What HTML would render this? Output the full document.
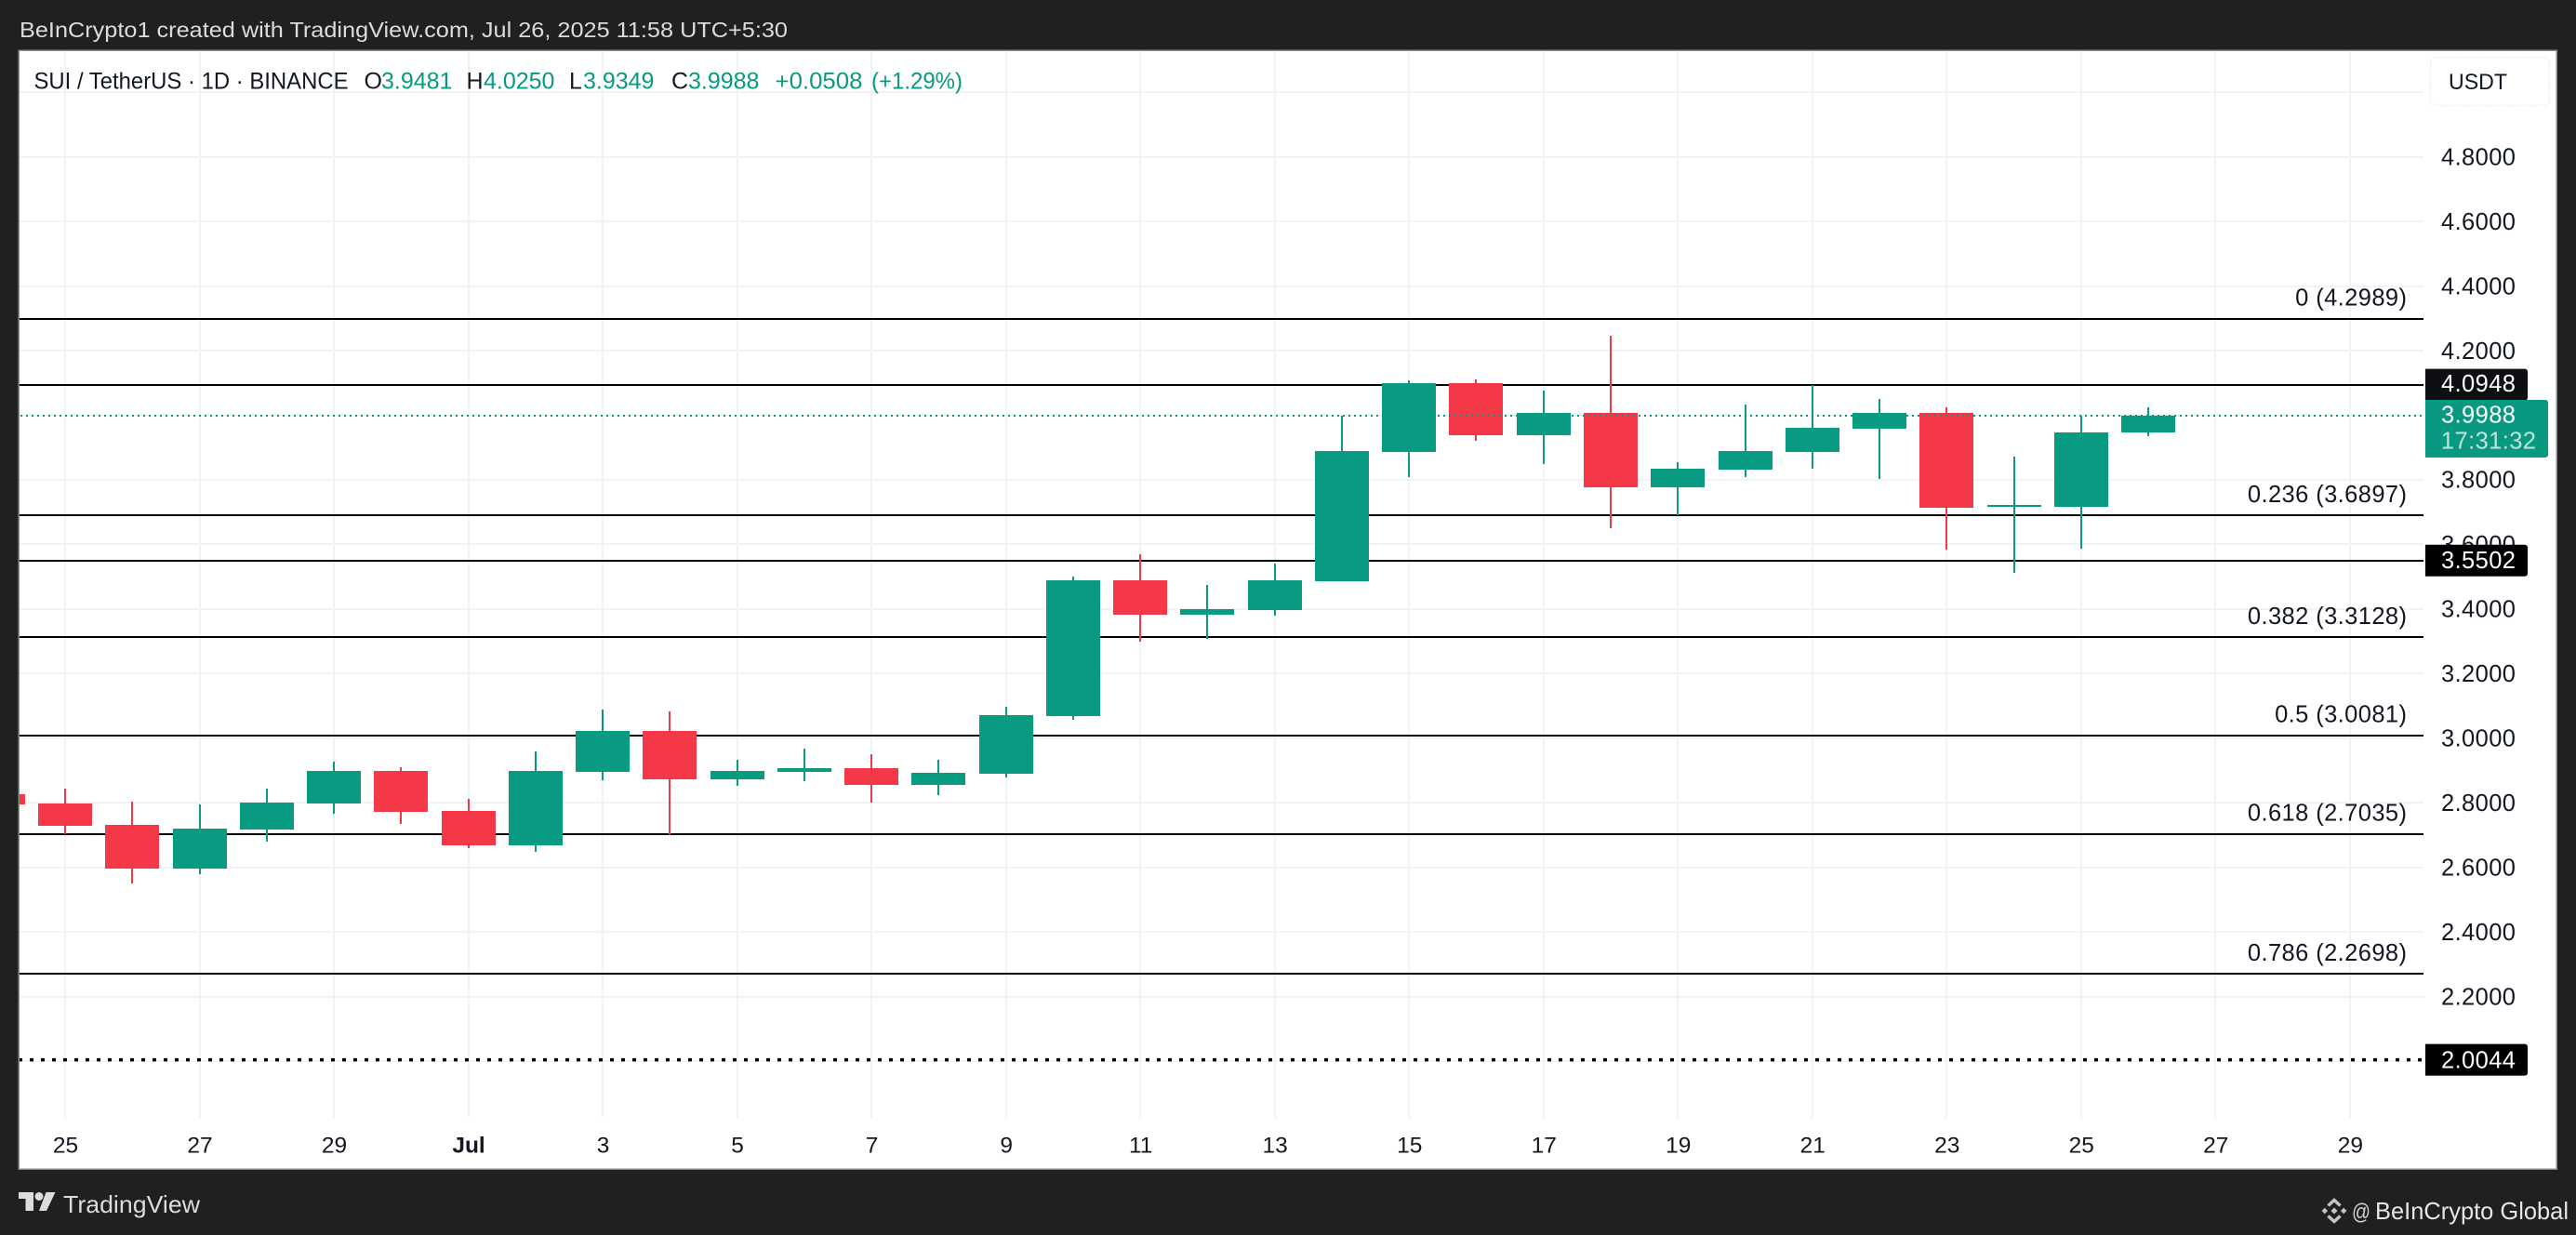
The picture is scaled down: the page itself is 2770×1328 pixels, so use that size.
<!DOCTYPE html>
<html lang="en">
<head>
<meta charset="utf-8">
<title>SUI / TetherUS 1D chart</title>
<style>
html,body{margin:0;padding:0;background:#202020;width:2770px;height:1328px;overflow:hidden}
svg{display:block;font-family:"Liberation Sans",Arial,sans-serif}
</style>
</head>
<body>
<svg id="chart" xmlns="http://www.w3.org/2000/svg" width="2770" height="1328" viewBox="0 0 2770 1328">
  <defs>
    <clipPath id="plot-clip"><rect x="21" y="55" width="2585" height="1147"/></clipPath>
  </defs>
  <rect x="0" y="0" width="2770" height="1328" fill="#202020"/>
  <text x="21" y="40" font-size="23.5" fill="#dcdcdc" textLength="826" lengthAdjust="spacingAndGlyphs">BeInCrypto1 created with TradingView.com, Jul 26, 2025 11:58 UTC+5:30</text>
  <rect x="20.25" y="54.25" width="2729" height="1203" fill="#ffffff" stroke="#8a8a8a" stroke-width="1.5"/>
  <g id="grid-layer"></g>
  <g id="level-layer" clip-path="url(#plot-clip)"></g>
  <g id="candle-layer" clip-path="url(#plot-clip)"></g>
  <g id="last-price-layer"></g>
  <g id="axis-layer"></g>

  <g font-size="25" fill="#131722">
    <text x="36.5" y="95.5" textLength="338" lengthAdjust="spacingAndGlyphs">SUI / TetherUS · 1D · BINANCE</text>
    <text x="391.5" y="95.5">O</text>
    <text x="410" y="95.5" fill="#089981">3.9481</text>
    <text x="501.5" y="95.5">H</text>
    <text x="520" y="95.5" fill="#089981">4.0250</text>
    <text x="612" y="95.5">L</text>
    <text x="627" y="95.5" fill="#089981">3.9349</text>
    <text x="722" y="95.5">C</text>
    <text x="740" y="95.5" fill="#089981">3.9988</text>
    <text x="833.5" y="95.5" fill="#089981" textLength="94" lengthAdjust="spacingAndGlyphs">+0.0508</text>
    <text x="937" y="95.5" fill="#089981" textLength="98" lengthAdjust="spacingAndGlyphs">(+1.29%)</text>
  </g>

  <g>
    <rect x="2613.5" y="61.5" width="128" height="52" rx="7" fill="#ffffff" stroke="#f0f0f0" stroke-width="1.5" stroke-dasharray="2 1"/>
    <text x="2633" y="96" font-size="24" fill="#131722" textLength="63" lengthAdjust="spacingAndGlyphs">USDT</text>
  </g>

  <g fill="#dcdcdc">
    <polygon points="20,1282 36,1282 36,1302 27.5,1302 27.5,1289 20,1289"/>
    <circle cx="42" cy="1286.5" r="4.5"/>
    <polygon points="49.5,1282 59.5,1282 50,1302 42,1302"/>
    <text x="68" y="1304" font-size="26" textLength="147" lengthAdjust="spacingAndGlyphs">TradingView</text>
  </g>

  <g>
    <g fill="none" stroke="#c4c4c4" stroke-width="3.4">
      <polyline points="2503.5,1296.5 2510,1290.5 2516.5,1296.5"/>
      <polyline points="2503.5,1307.5 2510,1313.5 2516.5,1307.5"/>
      <rect x="2507.5" y="1299.5" width="5" height="5" fill="#c4c4c4" stroke="none" transform="rotate(45 2510 1302)"/>
      <rect x="2497.5" y="1299.7" width="4.6" height="4.6" fill="#c4c4c4" stroke="none" transform="rotate(45 2499.8 1302)"/>
      <rect x="2517.9" y="1299.7" width="4.6" height="4.6" fill="#c4c4c4" stroke="none" transform="rotate(45 2520.2 1302)"/>
    </g>
    <text x="2529" y="1311" font-size="24" fill="#d4d4d4" textLength="20" lengthAdjust="spacingAndGlyphs">@</text>
    <text x="2554" y="1311" font-size="26" fill="#e6e6e6" textLength="208" lengthAdjust="spacingAndGlyphs">BeInCrypto Global</text>
  </g>
</svg>

<script>
// ---- chart data ----
const dates = ['Jun 24','Jun 25','Jun 26','Jun 27','Jun 28','Jun 29','Jun 30','Jul 1','Jul 2','Jul 3','Jul 4','Jul 5','Jul 6','Jul 7','Jul 8','Jul 9','Jul 10','Jul 11','Jul 12','Jul 13','Jul 14','Jul 15','Jul 16','Jul 17','Jul 18','Jul 19','Jul 20','Jul 21','Jul 22','Jul 23','Jul 24','Jul 25','Jul 26'];
const opens  = [2.8268,2.7980,2.7318,2.5964,2.7173,2.7980,2.8988,2.7750,2.6684,2.8959,3.0226,2.8729,2.8959,2.9074,2.8556,2.8901,3.0686,3.4890,3.3825,3.3969,3.4861,3.8864,4.0995,3.9382,4.0073,3.7770,3.8317,3.8864,3.9584,4.0073,3.7165,3.7165,3.9481];
const closes = [2.7951,2.7290,2.5964,2.7202,2.8009,2.8988,2.7721,2.6684,2.8988,3.0226,2.8729,2.8988,2.9074,2.8556,2.8930,3.0715,3.4890,3.3825,3.3998,3.4890,3.8893,4.0995,3.9382,4.0073,3.7770,3.8346,3.8893,3.9612,4.0073,3.7136,3.7223,3.9469,3.9988];
const highs  = [2.8400,2.8441,2.8037,2.7951,2.8441,2.9275,2.9103,2.8124,2.9592,3.0888,3.0830,2.9333,2.9679,2.9506,2.9333,3.0974,3.5005,3.5696,3.4746,3.5409,3.9995,4.1081,4.1110,4.0764,4.2463,3.8547,4.0332,4.0937,4.0505,4.0246,3.8720,3.9987,4.0250];
const lows   = [2.7800,2.7030,2.5504,2.5792,2.6799,2.7663,2.7347,2.6598,2.6483,2.8700,2.7001,2.8527,2.8671,2.8009,2.8239,2.8786,3.0571,3.2990,3.3076,3.3796,3.4861,3.8086,3.9209,3.8489,3.6503,3.6905,3.8086,3.8346,3.8029,3.5841,3.5121,3.5869,3.9349];

const priceTicks = ['5.0000','4.8000','4.6000','4.4000','4.2000','4.0000','3.8000','3.6000','3.4000','3.2000','3.0000','2.8000','2.6000','2.4000','2.2000','2.0000'];
const hiddenPriceLabels = ['5.0000'];
const timeTickLabels = ['25','27','29','Jul','3','5','7','9','11','13','15','17','19','21','23','25','27','29'];

const fibRatios = ['0','0.236','0.382','0.5','0.618','0.786'];
const fibPrices = [4.2989,3.6897,3.3128,3.0081,2.7035,2.2698];
const extraLevels = [4.0948,3.5502];
const dottedLevels = [2.0044];
const lastPrice = 3.9988;
const countdown = '17:31:32';

// ---- axis functions ----
function x(i){ return 70 + (i - 1) * 72.26; }
function y(p){ return 168.7 + (4.8 - p) * 347.3; }

const NS = 'http://www.w3.org/2000/svg';
function el(parent, tag, attrs, text){
  const e = document.createElementNS(NS, tag);
  for (const k in attrs) e.setAttribute(k, attrs[k]);
  if (text !== undefined) e.textContent = text;
  parent.appendChild(e);
  return e;
}

const gridLayer = document.getElementById('grid-layer');
const levelLayer = document.getElementById('level-layer');
const candleLayer = document.getElementById('candle-layer');
const lastLayer = document.getElementById('last-price-layer');
const axisLayer = document.getElementById('axis-layer');

const GREEN = '#089b81', RED = '#f43848', INK = '#131722';
const AXIS_FONT = 25.5, AXIS_SPACING = 0.4;

// grid lines
priceTicks.forEach(function(t){
  const line = el(gridLayer, 'rect', {x:21, y:Math.round(y(+t)) - 1, width:2585, height:2, fill:'#f2f3f3'});
  
  
});
timeTickLabels.forEach(function(t, k){
  const cx = x(1 + 2 * k);
  const line = el(gridLayer, 'rect', {x:Math.round(cx - 1), y:55, width:2, height:1147, fill:'#f2f3f3'});
  
  
});

// fib and horizontal levels
fibPrices.forEach(function(p, k){
  const line = el(levelLayer, 'rect', {x:21, y:Math.round(y(p)) - 1, width:2585, height:2, fill:'#000000'});
  
  
  const label = el(axisLayer, 'text', {x:2588.4, y:y(p) - 14.4, 'text-anchor':'end', 'font-size':AXIS_FONT, 'letter-spacing':AXIS_SPACING, fill:INK}, fibRatios[k] + ' (' + p.toFixed(4) + ')');
  
  
});
extraLevels.forEach(function(p){
  const line = el(levelLayer, 'rect', {x:21, y:Math.round(y(p)) - 1, width:2585, height:2, fill:'#000000'});
  
  
});
dottedLevels.forEach(function(p){
  const line = el(levelLayer, 'line', {x1:20, x2:2606, y1:y(p), y2:y(p), stroke:'#000000', 'stroke-width':3.5, 'stroke-dasharray':'4 8'});
  
  
});

// candles
dates.forEach(function(d, i){
  const up = closes[i] >= opens[i];
  const color = up ? GREEN : RED;
  const cx = x(i);
  const g = el(candleLayer, 'g', {});
  
  
  const wt = Math.round(y(highs[i])), wb = Math.round(y(lows[i]));
  const wick = el(g, 'rect', {x:Math.round(cx - 1), y:wt, width:2, height:wb - wt, fill:color});
  
  
  const bt = Math.round(y(Math.max(opens[i], closes[i]))), bb = Math.round(y(Math.min(opens[i], closes[i])));
  const body = el(g, 'rect', {x:Math.round(cx - 29), y:bt, width:58, height:Math.max(2, bb - bt), fill:color});
  
  
  const tip = el(g, 'title', {}, d);
  
  
});

// last price dotted line
const lastLine = el(lastLayer, 'line', {x1:22, x2:2604, y1:Math.round(y(lastPrice)), y2:Math.round(y(lastPrice)), stroke:'#089981', 'stroke-width':2, 'stroke-dasharray':'2 4'});



// price axis
priceTicks.forEach(function(t){
  if (hiddenPriceLabels.indexOf(t) >= 0) return;
  const label = el(axisLayer, 'text', {x:2705.4, y:y(+t) + 8.7, 'text-anchor':'end', 'font-size':AXIS_FONT, 'letter-spacing':AXIS_SPACING, fill:INK}, t);
  
  
});

// time axis
timeTickLabels.forEach(function(t, k){
  const bold = t === 'Jul';
  const label = el(axisLayer, 'text', {x:x(1 + 2 * k) + 0.5, y:1239.5, 'text-anchor':'middle', 'font-size':24.5, fill:INK, 'font-weight':bold ? 'bold' : 'normal'}, t);
  
  
});

// level badges on price axis
function badge(parent, price, fill, textOffset){
  const cy = y(price);
  const box = el(parent, 'path', {d:'M2608 ' + (cy - 17) + 'h107a3 3 0 0 1 3 3v28a3 3 0 0 1 -3 3h-107z', fill:fill});
  
  
  const label = el(parent, 'text', {x:2705.4, y:cy + textOffset, 'text-anchor':'end', 'font-size':AXIS_FONT, 'letter-spacing':AXIS_SPACING, fill:'#ffffff'}, price.toFixed(4));
  
  
}
badge(axisLayer, extraLevels[0], '#0e0f13', 7.2);
badge(axisLayer, extraLevels[1], '#000000', 8);
badge(axisLayer, dottedLevels[0], '#000000', 8.7);

// last price badge
const ly = y(lastPrice);
const lastBox = el(axisLayer, 'path', {d:'M2608 ' + (ly - 17) + 'h129a3 3 0 0 1 3 3v56a3 3 0 0 1 -3 3h-129z', fill:'#089981'});


const lastText = el(axisLayer, 'text', {x:2705.4, y:ly + 7.4, 'text-anchor':'end', 'font-size':AXIS_FONT, 'letter-spacing':AXIS_SPACING, fill:'#ffffff'}, lastPrice.toFixed(4));


const cdText = el(axisLayer, 'text', {x:2727.4, y:ly + 35.7, 'text-anchor':'end', 'font-size':AXIS_FONT, 'letter-spacing':AXIS_SPACING, fill:'#c3e2db'}, countdown);


</script>
</body>
</html>
